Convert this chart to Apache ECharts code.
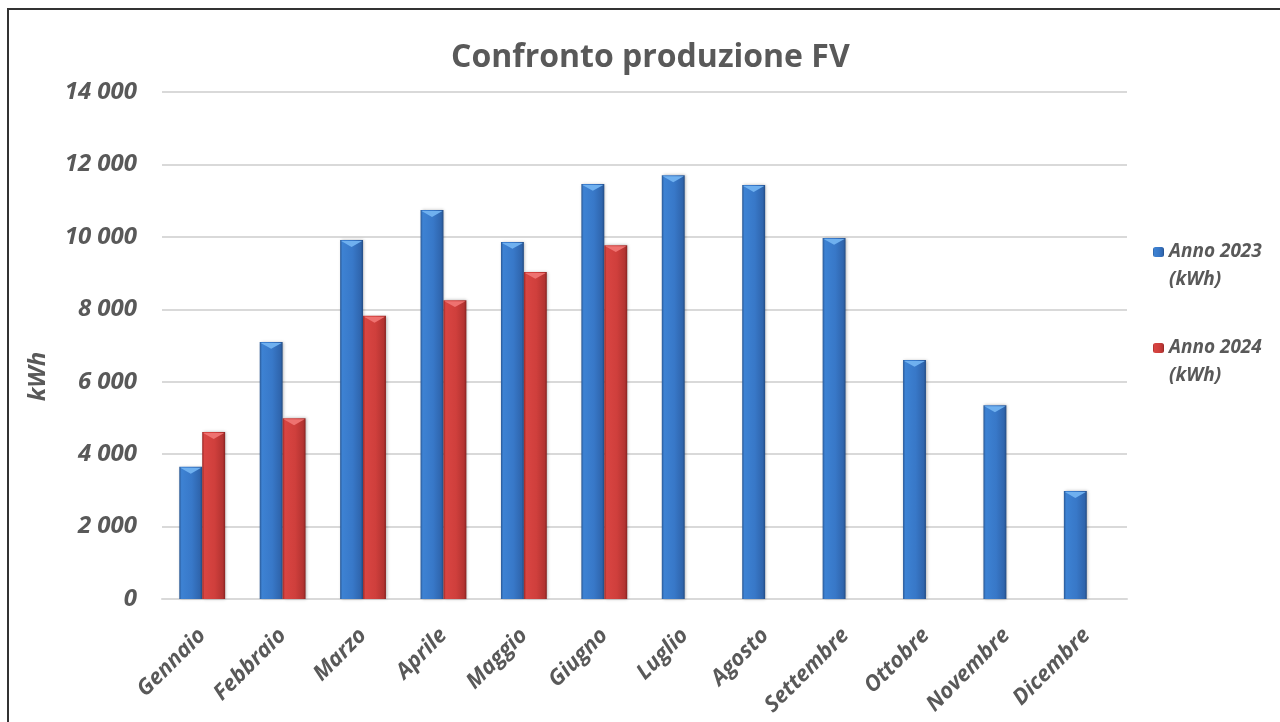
<!DOCTYPE html>
<html>
<head>
<meta charset="utf-8">
<title>Confronto produzione FV</title>
<script src="https://cdn.jsdelivr.net/npm/echarts@6/dist/echarts.min.js"></script>
<style>
    html, body { margin: 0; padding: 0; background: #fff; }
    #chart { width: 1280px; height: 722px; }
</style>
</head>
<body>
<div id="chart"></div>
<script>
// dati
var mesi = ['Gennaio', 'Febbraio', 'Marzo', 'Aprile', 'Maggio', 'Giugno',
    'Luglio', 'Agosto', 'Settembre', 'Ottobre', 'Novembre', 'Dicembre'];
var anno2023 = [3650, 7100, 9910, 10740, 9860, 11460, 11700, 11430, 9970, 6600, 5350, 2980];
var anno2024 = [4610, 4990, 7820, 8250, 9030, 9770, null, null, null, null, null, null];
var nomiSerie = ['Anno 2023\n(kWh)', 'Anno 2024\n(kWh)'];

var grigio = '#595959';
var font = 'Open Sans';
var gapCategoria = 0.43;

function sfumatura(c) {
    return new echarts.graphic.LinearGradient(0, 0, 1, 0, [
        { offset: 0, color: c[0] },
        { offset: 0.1, color: c[1] },
        { offset: 0.55, color: c[2] },
        { offset: 0.9, color: c[3] },
        { offset: 1, color: c[4] }
    ]);
}

var blu = sfumatura(['#2a5894', '#3d82d3', '#3878c8', '#2f65ad', '#234c84']);
var rosso = sfumatura(['#9a2826', '#d94542', '#cf3f3c', '#b33331', '#872220']);

// piccolo smusso chiaro in cima alle barre (effetto 3D)
function smusso(lato, colore) {
    return function (params, api) {
        var v = api.value(1);
        if (v == null || isNaN(v)) return;
        var p = api.coord([api.value(0), v]);
        var w = api.size([1, 0])[0] * (1 - gapCategoria) / 2;
        var x0 = lato === 0 ? p[0] - w : p[0];
        var x1 = x0 + w;
        var h = Math.min(7, w * 0.3);
        return {
            type: 'polygon',
            shape: { points: [[x0 + 1, p[1] + 1], [x1 - 1, p[1] + 1], [(x0 + x1) / 2, p[1] + h]] },
            style: { fill: colore },
            silent: true
        };
    };
}

var myChart = echarts.init(document.getElementById('chart'));

var option = {
    backgroundColor: '#fff',
    animation: false,
    title: {
        text: 'Confronto produzione FV',
        left: 446,
        top: 37,
        textStyle: {
            color: grigio,
            fontFamily: font,
            fontWeight: 'bold',
            fontSize: 32
        }
    },
    graphic: [{
        type: 'rect',
        shape: { x: 8, y: 9, width: 1320, height: 800 },
        style: { fill: 'none', stroke: '#333', lineWidth: 2 }
    }],
    legend: {
        orient: 'vertical',
        left: 1148,
        top: 205,
        itemGap: 12,
        itemWidth: 11,
        itemHeight: 10,
        data: nomiSerie,
        formatter: function (name) {
            return '\n' + name;
        },
        textStyle: {
            color: grigio,
            fontFamily: font,
            fontStyle: 'italic',
            fontWeight: 'bold',
            fontSize: 19,
            lineHeight: 28
        }
    },
    grid: {
        left: 162,
        right: 153,
        top: 92,
        bottom: 123
    },
    xAxis: {
        type: 'category',
        data: mesi,
        axisTick: { show: false },
        axisLine: { lineStyle: { color: '#d9d9d9', width: 2 } },
        axisLabel: {
            rotate: 45,
            margin: 33,
            color: grigio,
            fontFamily: font,
            fontStyle: 'italic',
            fontWeight: 'bold',
            fontSize: 22
        }
    },
    yAxis: {
        type: 'value',
        min: 0,
        max: 14000,
        interval: 2000,
        name: 'kWh',
        nameLocation: 'middle',
        nameGap: 112,
        nameTextStyle: {
            color: grigio,
            fontFamily: font,
            fontStyle: 'italic',
            fontWeight: 'bold',
            fontSize: 24,
            padding: [0, 62, 0, 0]
        },
        axisLine: { show: false },
        axisTick: { show: false },
        splitLine: { lineStyle: { color: '#d9d9d9', width: 2 } },
        axisLabel: {
            margin: 25,
            color: grigio,
            fontFamily: font,
            fontStyle: 'italic',
            fontWeight: 'bold',
            fontSize: 24,
            formatter: function (v) {
                return v >= 1000 ? Math.floor(v / 1000) + ' 000' : String(v);
            }
        }
    },
    series: [{
        name: nomiSerie[0],
        type: 'bar',
        data: anno2023,
        barGap: '0%',
        barCategoryGap: (gapCategoria * 100) + '%',
        itemStyle: {
            color: blu,
            shadowBlur: 3,
            shadowOffsetX: 1,
            shadowColor: 'rgba(0,0,0,0.3)'
        }
    }, {
        name: nomiSerie[1],
        type: 'bar',
        data: anno2024,
        itemStyle: {
            color: rosso,
            shadowBlur: 3,
            shadowOffsetX: 1,
            shadowColor: 'rgba(0,0,0,0.3)'
        }
    }, {
        type: 'custom',
        renderItem: smusso(0, '#6fb0ef'),
        data: anno2023.map(function (v, i) { return [i, v]; }),
        z: 5
    }, {
        type: 'custom',
        renderItem: smusso(1, '#ee7270'),
        data: anno2024.map(function (v, i) { return [i, v]; }),
        z: 5
    }]
};

myChart.setOption(option);
</script>
</body>
</html>
